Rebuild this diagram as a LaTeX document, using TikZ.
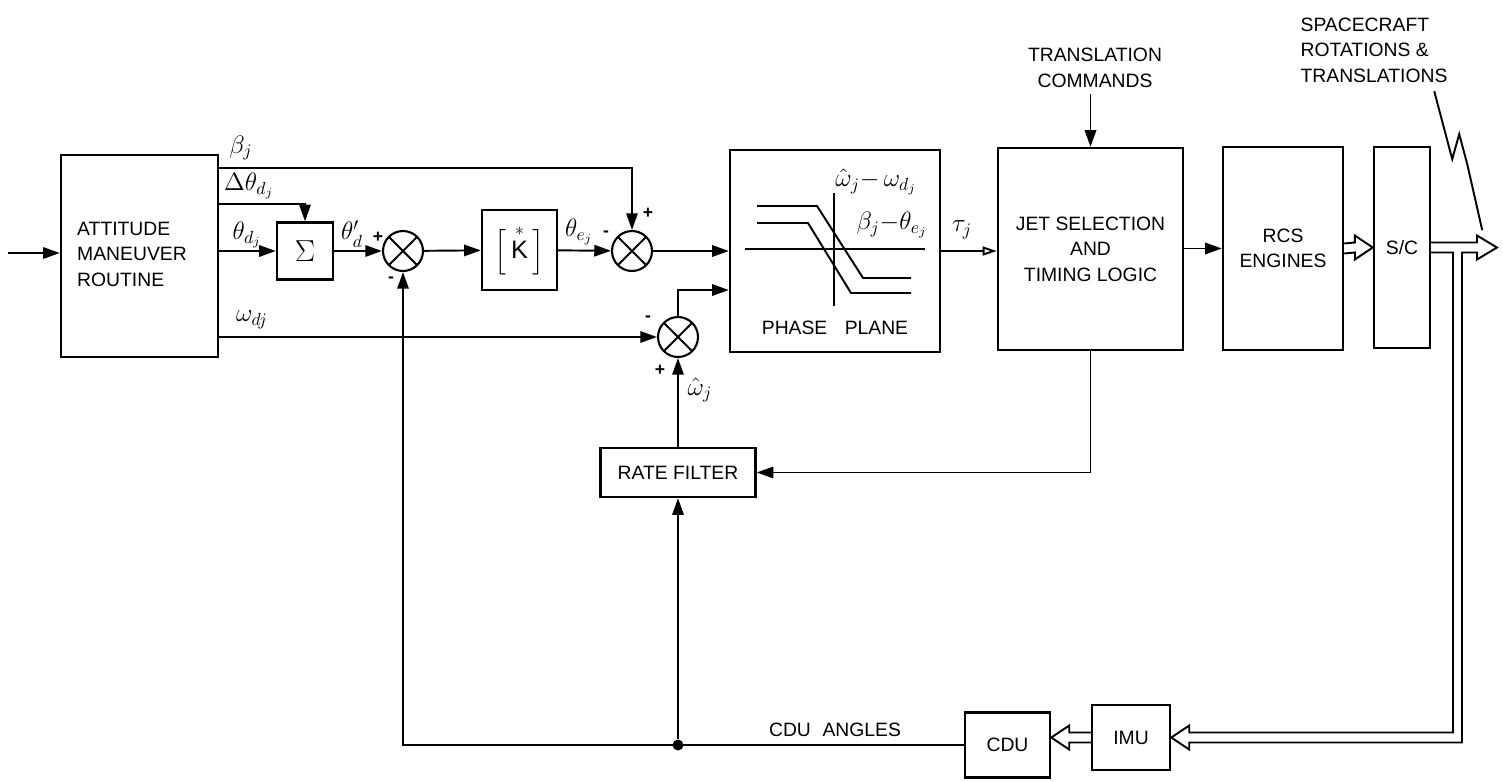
\documentclass[tikz,border=0pt]{standalone}
\usepackage{fontspec}
\setmainfont{Liberation Sans}
\usepackage{amsmath}
\usetikzlibrary{arrows.meta,calc}

\tikzset{blk/.style={draw, line width=1.4pt, rectangle, align=center, inner sep=0pt}}
\tikzset{sumj/.style={draw, line width=1.2pt, circle, minimum size=0.8cm, inner sep=0pt,
    path picture={\draw[line width=1.1pt] (path picture bounding box.north west) -- (path picture bounding box.south east)
      (path picture bounding box.north east) -- (path picture bounding box.south west);}}}
\tikzset{sgn/.style={inner sep=0pt, font=\normalsize\bfseries}}
\tikzset{lbl/.style={inner sep=1pt, font=\Large}}

% hollow double-line arrow, #3 = signed head length
\newcommand{\fatarrow}[3]{%
  \draw (#1) ++(0,-5) -- ($(#2)+({-(#3)},-5)$) -- ++(0,-7) -- (#2) -- ++({-(#3)},12) -- ++(0,-7) -- ($(#1)+(0,5)$);}

\begin{document}
\begin{tikzpicture}[x=0.02cm, y=-0.02cm, line width=1.1pt, >={Triangle[length=9.5pt,width=6.5pt]},
    font=\fontsize{11}{14.5}\selectfont]
    \useasboundingbox (0,0) rectangle (1503,781);

    \node[blk, minimum width=3.14cm, minimum height=4.04cm] (amr) at (139.5,256) {};
    \node[align=left] (amrl) at (132,254) {ATTITUDE\\MANEUVER\\ROUTINE};
    \node[blk, minimum width=1.12cm, minimum height=1.14cm] (sig) at (305,251) {\LARGE$\Sigma$};
    \node[sumj] (s1) at (403,251) {};
    \node[blk, minimum width=1.5cm, minimum height=1.6cm] (kgain) at (519.5,250) {\Large$\Bigl[\,\overset{*}{\text{K}}\,\Bigr]$};
    \node[sumj] (s2) at (632,251) {};
    \node[blk, minimum width=4.2cm, minimum height=4.04cm] (pp) at (835,251) {};
    \node (pplbl) at (835,328) {PHASE\hspace{0.9em}PLANE};
    \node[sumj] (s3) at (678,337) {};
    \node[blk, minimum width=3.1cm, minimum height=0.98cm] (rf) at (678,472.5) {RATE FILTER};

    \node[blk, minimum width=3.7cm, minimum height=4.04cm] (jet) at (1090.5,249) {JET SELECTION\\AND\\TIMING LOGIC};
    \node[align=center] (tc) at (1095,68) {TRANSLATION\\COMMANDS};
    \node[blk, minimum width=2.4cm, minimum height=4.06cm] (rcs) at (1283,248.5) {RCS\\ENGINES};
    \node[blk, minimum width=1.12cm, minimum height=4.02cm] (sc) at (1402,247.5) {S/C};
    \node[align=left] (scl) at (1374,50) {SPACECRAFT\\ROTATIONS \&\\TRANSLATIONS};

    \node[blk, minimum width=1.7cm, minimum height=1.3cm] (cdu) at (1007.5,745) {CDU};
    \node[blk, minimum width=1.56cm, minimum height=1.3cm] (imu) at (1131,737.5) {IMU};
    \node (cdul) at (835,730) {CDU\hspace{0.6em}ANGLES};
    \node[circle, fill, inner sep=0pt, minimum size=0.22cm] (dot) at (678,745) {};

    \coordinate (in) at (8,253);
    \coordinate (out) at (1497,247.5);
    \coordinate (br) at (1457.5,247.5);
    \coordinate (cduin) at (cdu.east |- imu.west);

    % signal labels
    \node[lbl] (lbeta) at (241,148) {$\beta_j$};
    \node[lbl] (ldth) at (249,186) {$\Delta\theta_{d_j}$};
    \node[lbl] (lth) at (247,235) {$\theta_{d_j}$};
    \node[lbl] (lthp) at (352,234) {$\theta'_d$};
    \node[lbl] (lthe) at (579,232) {$\theta_{e_j}$};
    \node[lbl] (lom) at (252,320) {$\omega_{dj}$};
    \node[lbl] (lomh) at (700,390) {$\hat{\omega}_j$};
    \node[lbl] (ltau) at (962,230) {$\tau_j$};
    \node[lbl] (lwdiff) at (876,182) {$\hat{\omega}_j{-}\,\omega_{d_j}$};
    \node[lbl] (lbdiff) at (892,225) {$\beta_j{-}\theta_{e_j}$};

    \node[sgn] (p1) at (378,237) {+};
    \node[sgn] (m1) at (391,280) {-};
    \node[sgn] (m2) at (606,234) {-};
    \node[sgn] (p2) at (648,213) {+};
    \node[sgn] (m3) at (648,319) {-};
    \node[sgn] (p3) at (660,370) {+};

    % phase plane sketch
    \draw (745,249) -- (925,249);
    \draw (834,193) -- (834,306);
    \draw (757,206) -- (817,206) -- (863,278) -- (911,278);
    \draw (757,223) -- (808,223) -- (851,293) -- (911,293);

    \draw[->] (in) -- (amr.west |- in);
    \draw[->] ($(amr.north east)+(0,14)$) -| (s2);
    \draw[->] ($(amr.north east)+(0,50)$) -| (sig);
    \draw[->] (amr.east |- sig) -- (sig);
    \draw[->] (amr.east |- s3) -- (s3);
    \draw[->] (sig) -- (s1);
    \draw[->] (s1) -- (kgain);
    \draw[->] (kgain) -- (s2);
    \draw[->] (s2) -- (pp.west |- s2);
    \draw[->] (s3) |- ($(pp.west)+(0,39)$);
    \draw[->] (rf) -- (s3);
    \draw[->] (dot) -- (rf);
    \draw[->] (cdu) -| (s1);
    \draw[-{Triangle[open,length=8pt,width=5pt]}] (pp.east) -- (pp.east -| jet.west);
    \draw[->] (jet.north |- tc.south) -- (jet.north);
    \draw[->] (jet) |- (rf);
    \draw[->] (rcs.west -| jet.east) -- (rcs.west);

    \fatarrow{rcs.east}{sc.west}{18}
    \fatarrow{imu.west}{cduin}{-18}
    \draw (sc.east) ++(0,-5) -- ($(out)+(-20,-5)$) -- ++(0,-7) -- (out) -- ++(-20,12) -- ++(0,-7)
      -- ($(br)+(4.5,5)$) |- ($(imu.east)+(18,5)$) -- ++(0,7) -- (imu.east) -- ++(18,-12) -- ++(0,7)
      -| ($(br)+(-4.5,5)$) -- ($(sc.east)+(0,5)$);

    \draw ($(scl.south east)+(-20,2)$) -- ++(18,68) -- ++(7,-25) -- ++(8,30) -- ++(15,66);
\end{tikzpicture}
\end{document}
